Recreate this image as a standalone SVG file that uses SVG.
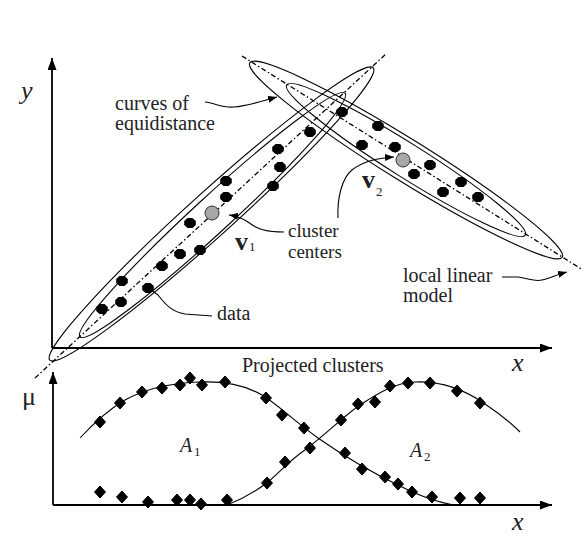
<svg xmlns="http://www.w3.org/2000/svg" width="588" height="554" viewBox="0 0 588 554">
<style>
.t{font-family:"Liberation Serif","Times New Roman",serif;font-size:20px;fill:#222}
.it{font-style:italic}
.ax{stroke:#000;stroke-width:1.8;fill:none}
.el{stroke:#000;stroke-width:1.1;fill:none}
.dd{stroke:#000;stroke-width:1.3;fill:none;stroke-dasharray:5 2.5 1.5 2.5}
.ld{stroke:#000;stroke-width:1.1;fill:none}
.cv{stroke:#000;stroke-width:1.1;fill:none}
.ctr{fill:#a8a8a8;stroke:#333;stroke-width:1}
</style>
<defs>
<marker id="axh" markerWidth="13" markerHeight="10" refX="12" refY="4.5" orient="auto" markerUnits="userSpaceOnUse"><path d="M0,0 L12,4.5 L0,9 Z" fill="#000"/></marker>
<marker id="ah" markerWidth="10" markerHeight="8" refX="9" refY="3.5" orient="auto" markerUnits="userSpaceOnUse"><path d="M0,0 L9,3.5 L0,7 Z" fill="#000"/></marker>
<path id="dot" d="M5.8,-2.1 L5.8,2.1 2.5,5 -2.5,5 -5.8,2.1 -5.8,-2.1 -2.5,-5 2.5,-5Z" fill="#000"/>
<path id="dia" d="M0,-6 L5.5,0 0,6 -5.5,0Z" fill="#000" stroke="#000" stroke-width="1" stroke-linejoin="round"/>
</defs>
<rect width="588" height="554" fill="#fff"/>

<g id="axes-top">
<line class="ax" x1="52" y1="348" x2="52" y2="58" marker-end="url(#axh)"/>
<line class="ax" x1="52" y1="348" x2="552" y2="348" marker-end="url(#axh)"/>
<text class="t it" x="21" y="99" style="font-size:26px">y</text>
<text class="t it" x="512" y="371" style="font-size:26px">x</text>
</g>

<g id="cluster1">
<ellipse class="el" cx="0" cy="0" rx="218" ry="22" transform="translate(211.5 214) rotate(-42.1)"/>
<ellipse class="el" cx="0" cy="0" rx="180" ry="18" transform="translate(212.5 215) rotate(-42.6)"/>
<line class="dd" x1="35" y1="378" x2="387" y2="53"/>
</g>

<g id="cluster2">
<ellipse class="el" cx="0" cy="0" rx="184" ry="21" transform="translate(406 160) rotate(31.9)"/>
<ellipse class="el" cx="0" cy="0" rx="141" ry="17" transform="translate(406 160) rotate(32.2)"/>
<line class="dd" x1="242" y1="56" x2="583" y2="270"/>
</g>

<g id="data-points">
<use href="#dot" x="342" y="112"/>
<use href="#dot" x="310" y="132"/>
<use href="#dot" x="278" y="149"/>
<use href="#dot" x="280" y="167"/>
<use href="#dot" x="273" y="186"/>
<use href="#dot" x="226" y="181"/>
<use href="#dot" x="226" y="197"/>
<use href="#dot" x="190" y="223"/>
<use href="#dot" x="180" y="254"/>
<use href="#dot" x="200" y="250"/>
<use href="#dot" x="162" y="266"/>
<use href="#dot" x="122" y="281"/>
<use href="#dot" x="148" y="288"/>
<use href="#dot" x="121" y="302"/>
<use href="#dot" x="102" y="309"/>
<use href="#dot" x="378" y="126"/>
<use href="#dot" x="362" y="145"/>
<use href="#dot" x="395" y="147"/>
<use href="#dot" x="414" y="174"/>
<use href="#dot" x="430" y="165"/>
<use href="#dot" x="461" y="182"/>
<use href="#dot" x="443" y="192"/>
<use href="#dot" x="478" y="197"/>
</g>

<g id="center-v1">
<circle class="ctr" cx="212" cy="213" r="7"/>
<text class="t" x="235" y="250" style="font-size:26px;font-weight:bold">v</text>
<text class="t" x="249" y="251" style="font-size:13px">1</text>
</g>
<g id="center-v2">
<circle class="ctr" cx="403" cy="160" r="7"/>
<text class="t" x="362" y="188" style="font-size:26px;font-weight:bold">v</text>
<text class="t" x="376" y="196" style="font-size:13px">2</text>
</g>

<g id="label-curves">
<text class="t" x="115" y="110">curves of</text>
<text class="t" x="115" y="130">equidistance</text>
</g>
<g id="label-centers">
<text class="t" x="288" y="237" style="font-size:19px">cluster</text>
<text class="t" x="288" y="258" style="font-size:19px">centers</text>
</g>
<g id="label-data">
<text class="t" x="217" y="320">data</text>
</g>
<g id="label-model">
<text class="t" x="403" y="282">local linear</text>
<text class="t" x="403" y="302">model</text>
</g>

<g id="connectors">
<path class="ld" d="M205,102 C215,103 222,108 234,107 C248,106 262,101 277,97" marker-end="url(#ah)"/>
<path class="ld" d="M284,232 C268,232 258,230 248,222 C242,218 236,216 229,215" marker-end="url(#ah)"/>
<path class="ld" d="M338,218 C337,198 342,178 352,170 C362,162 376,158 394,157" marker-end="url(#ah)"/>
<path class="ld" d="M212,316 L185,314 C172,312 165,304 158,295 L150,289"/>
<path class="ld" d="M502,277 L518,277 C528,278 534,282 542,280 C550,278 556,275 567,272" marker-end="url(#ah)"/>
</g>

<g id="axes-bottom">
<line class="ax" x1="53" y1="505" x2="53" y2="372" marker-end="url(#axh)"/>
<line class="ax" x1="53" y1="505" x2="552" y2="505" marker-end="url(#axh)"/>
<text class="t" x="22" y="405" style="font-size:26px">μ</text>
<text class="t it" x="512" y="530" style="font-size:26px">x</text>
<text class="t" x="242" y="372">Projected clusters</text>
</g>

<g id="membership-A1">
<path class="cv" d="M80,438 C92,425 108,410 125,400 C145,389 170,383 200,382 C225,381 245,385 262,395 C280,406 295,422 318,438 C345,457 375,474 400,486 C420,496 440,503 455,505"/>
<text class="t it" x="180" y="452">A</text>
<text class="t" x="194" y="456" style="font-size:13px">1</text>
<use href="#dia" x="100" y="422"/>
<use href="#dia" x="120" y="403"/>
<use href="#dia" x="142" y="392"/>
<use href="#dia" x="162" y="388"/>
<use href="#dia" x="180" y="385"/>
<use href="#dia" x="190" y="378"/>
<use href="#dia" x="202" y="385"/>
<use href="#dia" x="225" y="382"/>
<use href="#dia" x="266" y="398"/>
<use href="#dia" x="282" y="415"/>
<use href="#dia" x="304" y="428"/>
<use href="#dia" x="345" y="453"/>
<use href="#dia" x="362" y="469"/>
<use href="#dia" x="385" y="477"/>
<use href="#dia" x="398" y="484"/>
<use href="#dia" x="412" y="492"/>
<use href="#dia" x="432" y="497"/>
<use href="#dia" x="460" y="498"/>
<use href="#dia" x="480" y="498"/>
</g>

<g id="membership-A2">
<path class="cv" d="M200,505 L227,505 C240,500 255,492 268,482 C280,472 290,460 305,450 C325,435 345,415 360,405 C380,392 395,383 415,382 C440,381 465,390 485,404 C500,414 512,424 520,432"/>
<text class="t it" x="410" y="457">A</text>
<text class="t" x="424" y="461" style="font-size:13px">2</text>
<use href="#dia" x="100" y="492"/>
<use href="#dia" x="122" y="497"/>
<use href="#dia" x="148" y="502"/>
<use href="#dia" x="177" y="500"/>
<use href="#dia" x="190" y="500"/>
<use href="#dia" x="201" y="504"/>
<use href="#dia" x="227" y="500"/>
<use href="#dia" x="267" y="483"/>
<use href="#dia" x="285" y="462"/>
<use href="#dia" x="310" y="448"/>
<use href="#dia" x="341" y="420"/>
<use href="#dia" x="358" y="404"/>
<use href="#dia" x="375" y="402"/>
<use href="#dia" x="390" y="386"/>
<use href="#dia" x="408" y="383"/>
<use href="#dia" x="430" y="383"/>
<use href="#dia" x="457" y="391"/>
<use href="#dia" x="480" y="403"/>
</g>
</svg>
